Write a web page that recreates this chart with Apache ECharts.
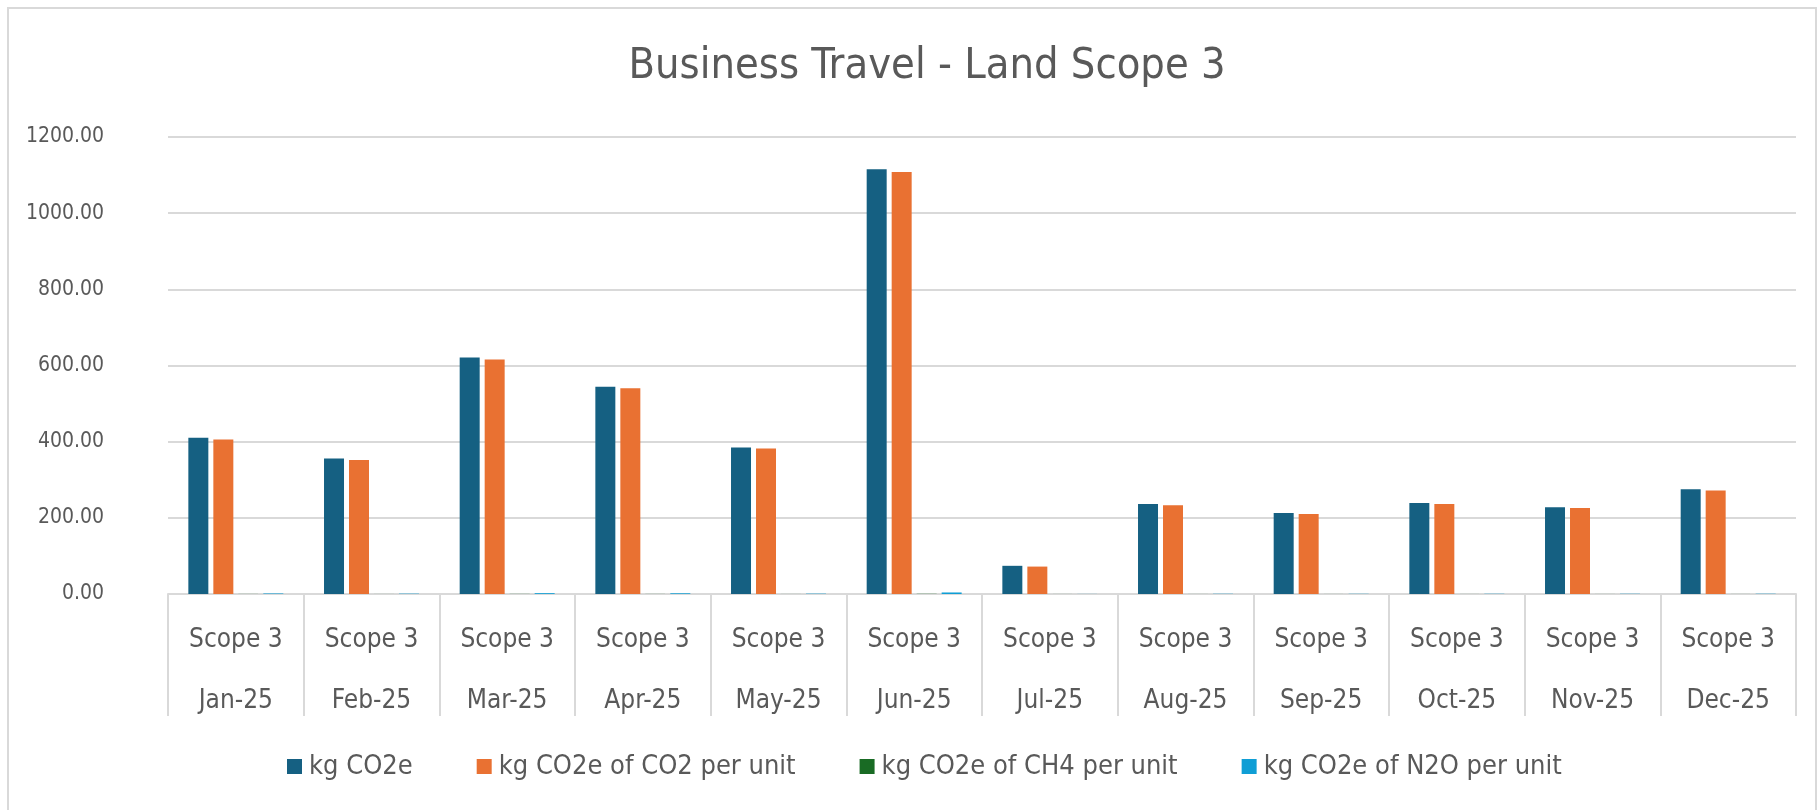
<!DOCTYPE html>
<html>
<head>
<meta charset="utf-8">
<script src="https://cdn.jsdelivr.net/npm/echarts@6/dist/echarts.min.js"></script>
<style>
html, body { margin: 0; padding: 0; background: #fff; }
#chart { width: 1819px; height: 810px; }
</style>
</head>
<body>
<div id="chart"></div>
<script>
// values
var months = ['Jan-25', 'Feb-25', 'Mar-25', 'Apr-25', 'May-25', 'Jun-25', 'Jul-25', 'Aug-25', 'Sep-25', 'Oct-25', 'Nov-25', 'Dec-25'];
var scopes = ['Scope 3', 'Scope 3', 'Scope 3', 'Scope 3', 'Scope 3', 'Scope 3', 'Scope 3', 'Scope 3', 'Scope 3', 'Scope 3', 'Scope 3', 'Scope 3'];
var seriesNames = ['kg CO2e', 'kg CO2e of CO2 per unit', 'kg CO2e of CH4 per unit', 'kg CO2e of N2O per unit'];
var kgCO2e = [410, 356, 621, 544, 385, 1115, 74, 236, 213, 239, 228, 275];
var kgCO2 = [406, 352, 616, 540, 382, 1108, 72, 233, 210, 236, 226, 272];
var kgCH4 = [0.2, 0.1, 0.3, 0.2, 0.1, 0.5, 0.1, 0.1, 0.1, 0.1, 0.1, 0.1];
var kgN2O = [1.4, 0.9, 2.2, 1.9, 0.9, 4.0, 0.2, 0.6, 0.5, 0.6, 0.6, 0.7];
var yTicks = [0, 200, 400, 600, 800, 1000, 1200];

var colors = ['#156082', '#E97132', '#196B24', '#0F9ED5'];
var font = "'Liberation Sans Narrow', 'DejaVu Sans Condensed', sans-serif";

var myChart = echarts.init(document.getElementById('chart'));

var seriesData = [kgCO2e, kgCO2, kgCH4, kgN2O];
var series = seriesData.map(function (d, i) {
    return {
        name: seriesNames[i],
        type: 'bar',
        data: d,
        barGap: '25%',
        barCategoryGap: '30%',
        itemStyle: { color: colors[i] }
    };
});

myChart.setOption({
    animation: false,
    textStyle: { fontFamily: font },
    graphic: [{
        type: 'rect',
        shape: { x: 8, y: 8, width: 1808, height: 830 },
        style: { fill: 'none', stroke: '#D9D9D9', lineWidth: 2 },
        silent: true
    }],
    title: {
        text: 'Business Travel - Land Scope 3',
        left: 922,
        textAlign: 'center',
        top: 40,
        textStyle: { color: '#595959', fontSize: 43, fontWeight: 'normal', fontFamily: font }
    },
    legend: {
        left: 282,
        top: 748,
        icon: 'rect',
        itemWidth: 15,
        itemHeight: 15,
        itemGap: 64,
        textStyle: { color: '#595959', fontSize: 27, fontFamily: font, padding: [0, 0, 0, 2] },
        data: seriesNames
    },
    grid: { left: 168, right: 23, top: 137, bottom: 216 },
    xAxis: {
        type: 'category',
        data: months,
        axisLine: { show: true, lineStyle: { color: '#D9D9D9', width: 2 } },
        axisTick: { show: true, length: 122, lineStyle: { color: '#D9D9D9', width: 2 } },
        axisLabel: {
            color: '#595959',
            fontSize: 26,
            fontFamily: font,
            margin: 16,
            lineHeight: 61,
            formatter: function (v, i) { return scopes[i] + '\n' + v; }
        }
    },
    yAxis: {
        type: 'value',
        min: yTicks[0],
        max: yTicks[yTicks.length - 1],
        interval: 200,
        axisLine: { show: false },
        axisTick: { show: false },
        splitLine: { lineStyle: { color: '#D9D9D9', width: 2 } },
        axisLabel: {
            color: '#595959',
            fontSize: 21,
            fontFamily: font,
            margin: 64,
            formatter: function (v) { return v.toFixed(2); }
        }
    },
    series: series
});
</script>
</body>
</html>
